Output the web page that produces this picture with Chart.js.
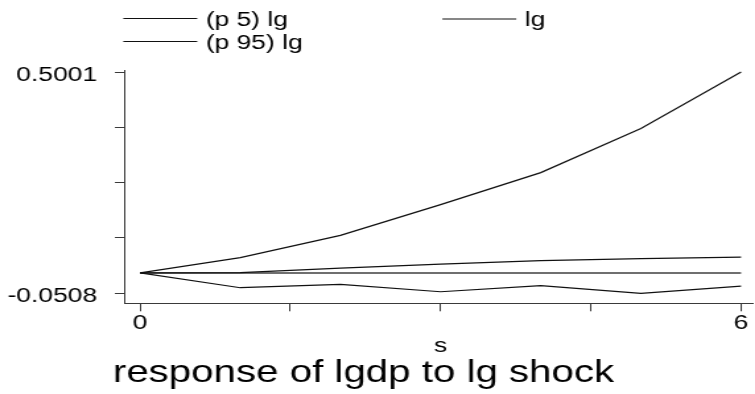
<!DOCTYPE html>
<html>
<head>
<meta charset="utf-8">
<title>response of lgdp to lg shock</title>
<script src="https://cdn.jsdelivr.net/npm/chart.js@4/dist/chart.umd.min.js"></script>
<style>
  html, body { margin: 0; padding: 0; background: #fff; overflow: hidden; }
  /* the graph is laid out 572 wide and stretched to 755 */
  #wrap { width: 572px; height: 394px; transform: scaleX(1.32); transform-origin: 0 0; }
  canvas { display: block; }
</style>
</head>
<body>
<div id="wrap"><canvas id="irf" width="572" height="394"></canvas></div>
<script>
// ── Data ─────────────────────────────────────────────────────────────────────
const steps = [0, 1, 2, 3, 4, 5, 6];
const p5    = [0, -0.0369, -0.0287, -0.0469, -0.0319, -0.0508, -0.0329];
const lg    = [0,  0.0005,  0.0120,  0.0220,  0.0304,  0.0354,  0.0394];
const p95   = [0,  0.0379,  0.0935,  0.1700,  0.2497,  0.3594,  0.5001];
const zero  = [0, 0, 0, 0, 0, 0, 0];

const xTicks  = [0, 1.5, 3, 4.5, 6];
const xLabels = ["0", "", "", "", "6"];
const yTicks  = [-0.0508, 0.086925, 0.22465, 0.362375, 0.5001];
const yLabels = ["-0.0508", "", "", "", "0.5001"];

const FONT = "'Liberation Sans', Arial, Helvetica, sans-serif";
const INK  = "#000";
const AXIS = "#3a3a3a";

const pts = (ys) => steps.map((s, i) => ({ x: s, y: ys[i] }));

const line = (label, ys, color, width) => ({
  label,
  data: pts(ys),
  borderColor: color,
  borderWidth: width,
  pointRadius: 0,
  tension: 0,
  fill: false,
});

// ── Legend + titles drawn straight onto the canvas ───────────────────────────
const irfText = {
  id: "irfText",
  afterDraw(chart, args, opts) {
    const ctx = chart.ctx;
    ctx.save();
    ctx.fillStyle = INK;
    ctx.textBaseline = "alphabetic";

    // legend: one slot per labelled dataset
    ctx.font = `20px ${FONT}`;
    ctx.textAlign = "left";
    chart.data.datasets.forEach((ds, i) => {
      const slot = opts.legend[i];
      if (!slot) return;
      ctx.strokeStyle = ds.borderColor;
      ctx.lineWidth = 1.2;
      ctx.beginPath();
      ctx.moveTo(slot.x, slot.lineY);
      ctx.lineTo(slot.x + opts.swatch, slot.lineY);
      ctx.stroke();
      ctx.fillText(ds.label, slot.x + opts.swatch + 6.5, slot.textY);
    });

    // x axis title
    ctx.textAlign = "center";
    ctx.font = `20px ${FONT}`;
    ctx.fillText("s", chart.scales.x.getPixelForValue(3), 352);

    // graph title
    ctx.font = `30.5px ${FONT}`;
    ctx.fillText("response of lgdp to lg shock", 275.4, 382);
    ctx.restore();
  }
};

// ── Chart ────────────────────────────────────────────────────────────────────
new Chart(document.getElementById("irf"), {
  type: "line",
  data: {
    datasets: [
      line("(p 5) lg",  p5,   "#111", 1.2),
      line("lg",        lg,   "#111", 1.2),
      line("(p 95) lg", p95,  "#111", 1.2),
      line("",          zero, "#6f6f6f", 2),
    ]
  },
  options: {
    responsive: false,
    animation: false,
    devicePixelRatio: 1,
    layout: { padding: { top: 70, right: 1.5, bottom: 0, left: 0 } },
    events: [],
    plugins: {
      legend: { display: false },
      tooltip: { enabled: false },
      irfText: {
        swatch: 56,
        legend: [
          { x: 93.4,  lineY: 18.5, textY: 26.3 },
          { x: 335.1, lineY: 19,   textY: 26.3 },
          { x: 93.4,  lineY: 41.5, textY: 48.5 },
        ]
      }
    },
    scales: {
      x: {
        type: "linear",
        min: -0.16,
        max: 6.12,
        afterBuildTicks: (axis) => { axis.ticks = xTicks.map(v => ({ value: v })); },
        afterFit: (axis) => { axis.height = 394 - 303.3; },
        ticks: {
          autoSkip: false,
          maxRotation: 0,
          padding: 0,
          color: INK,
          font: { family: FONT, size: 20 },
          callback: (v, i) => xLabels[i],
        },
        grid: { drawOnChartArea: false, drawTicks: true, tickLength: 8, color: AXIS, lineWidth: 1 },
        border: { display: true, color: AXIS, width: 1 },
      },
      y: {
        type: "linear",
        min: -0.0757,
        max: 0.5051,
        afterBuildTicks: (axis) => { axis.ticks = yTicks.map(v => ({ value: v })); },
        afterFit: (axis) => { axis.width = 94; },
        ticks: {
          autoSkip: false,
          padding: 13.5,
          labelOffset: 3,
          color: INK,
          font: { family: FONT, size: 20 },
          callback: (v, i) => yLabels[i],
        },
        grid: { drawOnChartArea: false, drawTicks: true, tickLength: 7, color: AXIS, lineWidth: 1 },
        border: { display: true, color: AXIS, width: 1 },
      }
    }
  },
  plugins: [irfText]
});
</script>
</body>
</html>
